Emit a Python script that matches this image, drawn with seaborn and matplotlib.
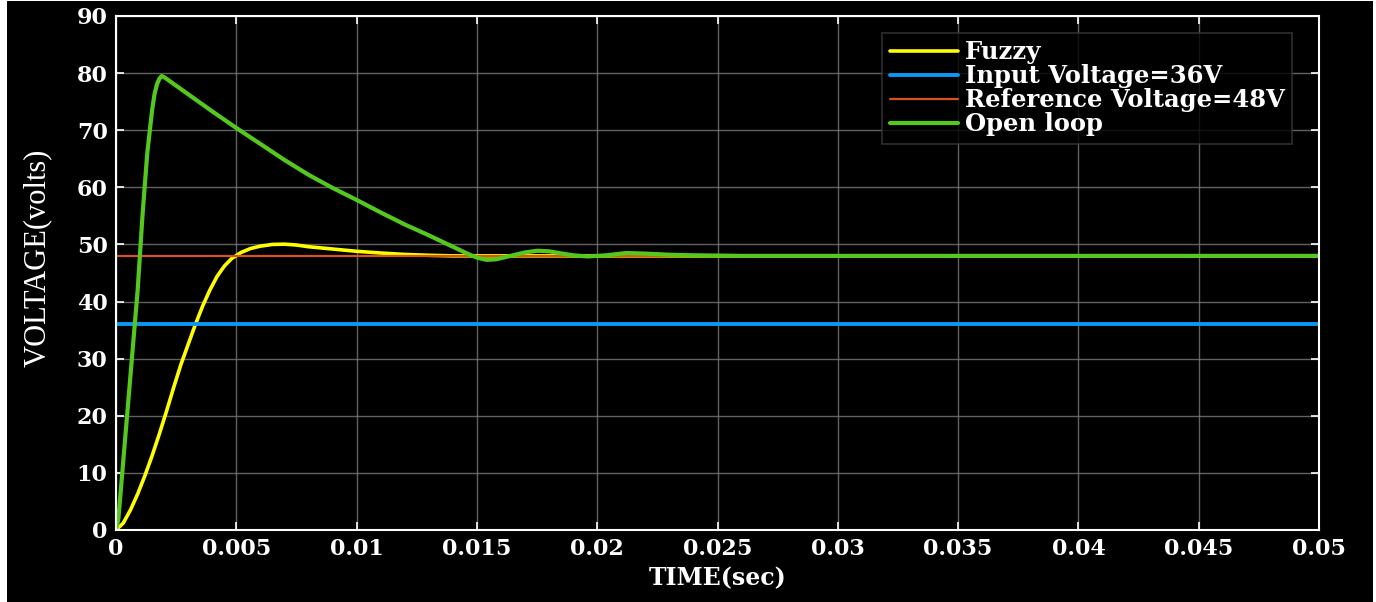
import numpy as np
import pandas as pd
import matplotlib
matplotlib.use('Agg')
import matplotlib.pyplot as plt
import seaborn as sns
from matplotlib.patches import Rectangle

# time (sec) / voltage values
t_fuzzy = [0, 0.0003, 0.0006, 0.0009, 0.0012, 0.0015, 0.0018, 0.0021, 0.0024, 0.0027,
           0.003, 0.0033, 0.0036, 0.0039, 0.0042, 0.0045, 0.0048, 0.0052, 0.0056, 0.006,
           0.0065, 0.007, 0.0075, 0.008, 0.009, 0.01, 0.011, 0.012, 0.013, 0.014, 0.05]
v_fuzzy = [0, 1.2, 3.5, 6.3, 9.5, 13, 16.8, 20.8, 25, 29,
           32.5, 36, 39.2, 42, 44.4, 46.2, 47.5, 48.6, 49.3, 49.7,
           50, 50.05, 49.9, 49.6, 49.2, 48.8, 48.5, 48.25, 48.1, 48.0, 48.0]

t_open = [0, 0.0001, 0.0003, 0.0005, 0.0007, 0.0009, 0.0011, 0.0013, 0.0015, 0.0016,
          0.0017, 0.0018, 0.0019, 0.002, 0.0025, 0.003, 0.0035, 0.004, 0.005, 0.006,
          0.007, 0.008, 0.009, 0.01, 0.011, 0.012, 0.013, 0.014, 0.0146, 0.015,
          0.0154, 0.0158, 0.0164, 0.017, 0.0175, 0.018, 0.0184, 0.019, 0.0196, 0.0204,
          0.0212, 0.022, 0.023, 0.024, 0.026, 0.05]
v_open = [0, 2, 12, 22, 32, 42, 55, 66, 73.5, 76.3,
          78, 79, 79.5, 79.3, 77.8, 76.3, 74.8, 73.3, 70.4, 67.6,
          64.8, 62.2, 59.9, 57.8, 55.6, 53.5, 51.6, 49.6, 48.4, 47.7,
          47.3, 47.4, 48, 48.6, 48.9, 48.8, 48.5, 48.1, 47.9, 48.1,
          48.5, 48.4, 48.2, 48.1, 48, 48]

t_const = [0, 0.05]
v_input = [36, 36]
v_ref = [48, 48]

xticks = [0, 0.005, 0.01, 0.015, 0.02, 0.025, 0.03, 0.035, 0.04, 0.045, 0.05]
xtick_labels = ['0', '0.005', '0.01', '0.015', '0.02', '0.025', '0.03', '0.035', '0.04', '0.045', '0.05']
yticks = [0, 10, 20, 30, 40, 50, 60, 70, 80, 90]

sns.set_style('dark')
plt.rcParams['font.family'] = ['DejaVu Serif']
plt.rcParams['font.weight'] = 'bold'

fig = plt.figure(figsize=(13.76, 6.02), dpi=100, facecolor='white')
fig.patches.append(Rectangle((7/1376, 0), 1366/1376, 601/602, transform=fig.transFigure,
                             facecolor='black', edgecolor='none', zorder=-10))
ax = fig.add_axes([116/1376, 72/602, 1203/1376, 514/602])
ax.set_facecolor('black')

sns.lineplot(x=t_fuzzy, y=v_fuzzy, ax=ax, color='#FFFF00', lw=2.6, label='Fuzzy')
sns.lineplot(x=t_const, y=v_input, ax=ax, color='#0A98F5', lw=2.8, label='Input Voltage=36V')
sns.lineplot(x=t_const, y=v_ref, ax=ax, color='#D95319', lw=1.6, label='Reference Voltage=48V')
sns.lineplot(x=t_open, y=v_open, ax=ax, color='#55C81E', lw=3.0, label='Open loop')
for l in ax.lines:
    l.set_solid_joinstyle('round')

ax.set_xlim(0, 0.05)
ax.set_ylim(0, 90)
ax.set_xticks(xticks)
ax.set_xticklabels(xtick_labels)
ax.set_yticks(yticks)
ax.grid(True, color='#7a7a7a', lw=1, alpha=0.8)
ax.tick_params(direction='in', length=6, width=1.2, colors='white', labelsize=16,
               top=True, right=True, bottom=True, left=True, pad=6)
for lab in ax.get_xticklabels() + ax.get_yticklabels():
    lab.set_fontweight('bold')
    lab.set_color('white')
for s in ax.spines.values():
    s.set_color('white')
    s.set_linewidth(1.5)
    s.set_visible(True)

ax.set_xlabel('TIME(sec)', color='white', fontsize=17, fontweight='bold', labelpad=4)
ax.set_ylabel('VOLTAGE(volts)', color='white', fontsize=22, fontweight='normal',
              family=['Liberation Serif', 'DejaVu Serif'])
ax.yaxis.set_label_coords(-0.053, 0.53)

leg = ax.legend(loc='upper right', bbox_to_anchor=(0.9776, 0.967), borderaxespad=0,
                fancybox=False, frameon=True, fontsize=17.5, handlelength=2.8,
                handletextpad=0.3, labelspacing=0.0, borderpad=0.3)
leg.get_frame().set_facecolor('black')
leg.get_frame().set_edgecolor('#3a3a3a')
leg.get_frame().set_linewidth(1.2)
for txt in leg.get_texts():
    txt.set_color('white')
    txt.set_fontweight('bold')

plt.savefig('out.png', dpi=100, facecolor=fig.get_facecolor())
